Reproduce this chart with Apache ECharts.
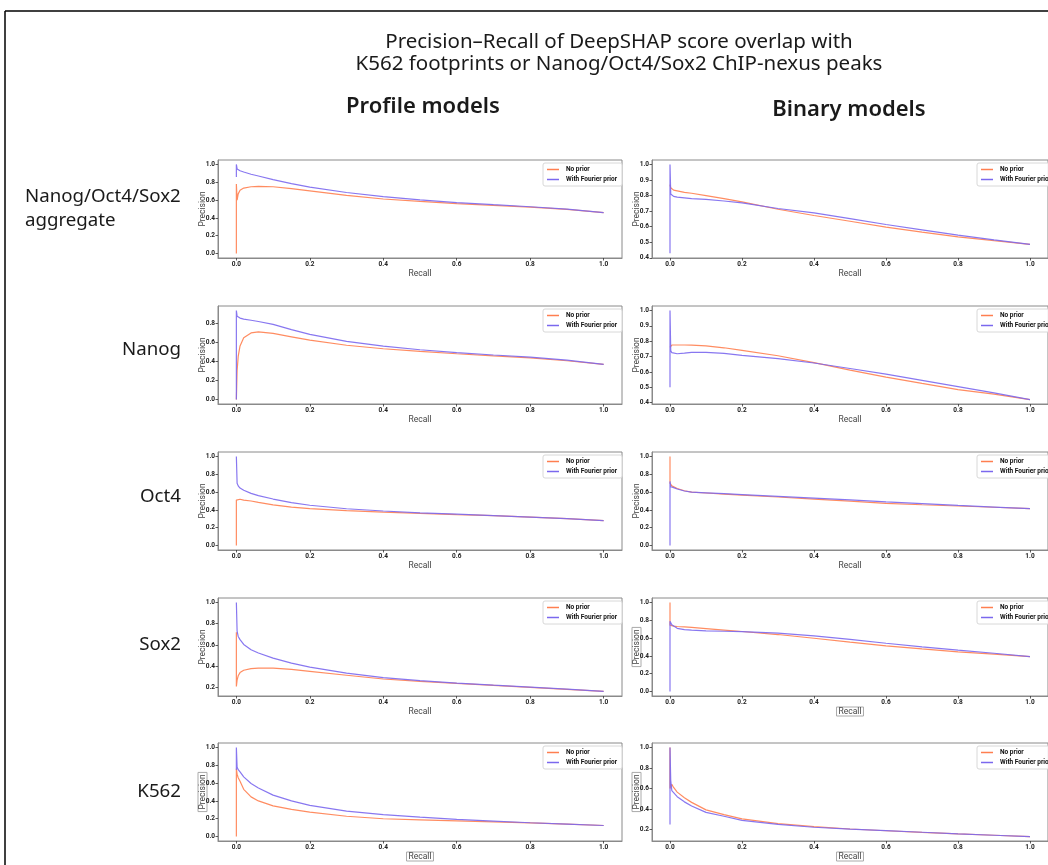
<!DOCTYPE html>
<html><head><meta charset="utf-8">
<script src="https://cdn.jsdelivr.net/npm/echarts@6/dist/echarts.min.js"></script>
<style>html,body{margin:0;padding:0;background:#fff}#c{width:1048px;height:865px}</style>
</head><body><div id="c"></div>
<script>
// ---- data ----
const recall = [0, 0, 0.002, 0.005, 0.01, 0.02, 0.04, 0.06, 0.1, 0.15, 0.2, 0.3, 0.4, 0.5, 0.6, 0.7, 0.8, 0.9, 1.0];

const profileAggNoPrior   = [0, 0.78, 0.60, 0.67, 0.71, 0.735, 0.75, 0.755, 0.75, 0.728, 0.703, 0.652, 0.612, 0.585, 0.56, 0.54, 0.52, 0.495, 0.46];
const profileAggFourier   = [0.86, 1.0, 0.95, 0.94, 0.93, 0.915, 0.89, 0.87, 0.83, 0.785, 0.745, 0.685, 0.638, 0.602, 0.572, 0.548, 0.525, 0.498, 0.46];
const binaryAggNoPrior    = [0.87, 0.87, 0.85, 0.84, 0.835, 0.83, 0.82, 0.815, 0.80, 0.78, 0.76, 0.712, 0.672, 0.635, 0.597, 0.565, 0.535, 0.51, 0.486];
const binaryAggFourier    = [0.43, 1.0, 0.81, 0.805, 0.795, 0.79, 0.785, 0.78, 0.775, 0.765, 0.753, 0.717, 0.689, 0.652, 0.614, 0.58, 0.546, 0.515, 0.486];

const profileNanogNoPrior = [0, 0, 0.30, 0.45, 0.56, 0.645, 0.695, 0.706, 0.69, 0.655, 0.62, 0.567, 0.53, 0.503, 0.478, 0.456, 0.436, 0.405, 0.367];
const profileNanogFourier = [0, 0.93, 0.87, 0.86, 0.85, 0.84, 0.828, 0.815, 0.785, 0.73, 0.68, 0.607, 0.557, 0.52, 0.49, 0.465, 0.443, 0.412, 0.367];
const binaryNanogNoPrior  = [0.76, 0.76, 0.77, 0.775, 0.775, 0.775, 0.775, 0.774, 0.77, 0.757, 0.74, 0.705, 0.66, 0.612, 0.566, 0.525, 0.485, 0.455, 0.42];
const binaryNanogFourier  = [0.5, 1.0, 0.74, 0.725, 0.715, 0.718, 0.722, 0.727, 0.727, 0.72, 0.708, 0.686, 0.658, 0.622, 0.586, 0.545, 0.504, 0.463, 0.42];

const profileOct4NoPrior  = [0, 0.51, 0.53, 0.525, 0.52, 0.51, 0.50, 0.485, 0.457, 0.432, 0.415, 0.392, 0.375, 0.36, 0.347, 0.335, 0.32, 0.303, 0.28];
const profileOct4Fourier  = [1.0, 1.0, 0.70, 0.67, 0.645, 0.62, 0.585, 0.56, 0.522, 0.482, 0.452, 0.413, 0.388, 0.367, 0.352, 0.336, 0.32, 0.302, 0.28];
const binaryOct4NoPrior   = [1.0, 0.70, 0.68, 0.67, 0.66, 0.64, 0.615, 0.60, 0.59, 0.578, 0.567, 0.545, 0.522, 0.498, 0.474, 0.458, 0.444, 0.43, 0.415];
const binaryOct4Fourier   = [0, 0.72, 0.66, 0.655, 0.65, 0.635, 0.612, 0.60, 0.592, 0.582, 0.572, 0.552, 0.532, 0.512, 0.49, 0.47, 0.45, 0.432, 0.415];

const profileSox2NoPrior  = [0.72, 0.21, 0.27, 0.31, 0.34, 0.362, 0.377, 0.383, 0.382, 0.37, 0.352, 0.315, 0.28, 0.258, 0.238, 0.22, 0.202, 0.183, 0.163];
const profileSox2Fourier  = [1.0, 1.0, 0.73, 0.68, 0.65, 0.605, 0.555, 0.525, 0.476, 0.43, 0.392, 0.335, 0.292, 0.265, 0.242, 0.222, 0.203, 0.184, 0.163];
const binarySox2NoPrior   = [1.0, 0.745, 0.74, 0.738, 0.735, 0.73, 0.725, 0.72, 0.707, 0.69, 0.674, 0.64, 0.598, 0.555, 0.513, 0.478, 0.446, 0.42, 0.393];
const binarySox2Fourier   = [0, 0.79, 0.77, 0.75, 0.73, 0.71, 0.695, 0.69, 0.682, 0.677, 0.672, 0.655, 0.625, 0.585, 0.542, 0.502, 0.464, 0.43, 0.393];

const profileK562NoPrior  = [0, 0.76, 0.70, 0.66, 0.62, 0.53, 0.445, 0.40, 0.345, 0.305, 0.275, 0.228, 0.2, 0.188, 0.177, 0.165, 0.154, 0.14, 0.124];
const profileK562Fourier  = [0.75, 1.0, 0.78, 0.75, 0.725, 0.67, 0.595, 0.545, 0.465, 0.40, 0.35, 0.285, 0.245, 0.217, 0.193, 0.173, 0.155, 0.14, 0.124];
const binaryK562NoPrior   = [1.0, 0.60, 0.62, 0.64, 0.61, 0.565, 0.51, 0.465, 0.392, 0.345, 0.305, 0.258, 0.228, 0.206, 0.189, 0.173, 0.158, 0.145, 0.132];
const binaryK562Fourier   = [0.25, 1.0, 0.68, 0.58, 0.56, 0.52, 0.47, 0.43, 0.368, 0.33, 0.29, 0.25, 0.223, 0.205, 0.19, 0.174, 0.158, 0.145, 0.132];

const xTicks       = [0, 0.2, 0.4, 0.6, 0.8, 1.0];
const yTicksFull   = [0, 0.2, 0.4, 0.6, 0.8, 1.0];
const yTicksTo08   = [0, 0.2, 0.4, 0.6, 0.8];
const yTicksFrom02 = [0.2, 0.4, 0.6, 0.8, 1.0];
const yTicksTenths = [0.4, 0.5, 0.6, 0.7, 0.8, 0.9, 1.0];

const rowLabels = ['Nanog/Oct4/Sox2\naggregate', 'Nanog', 'Oct4', 'Sox2', 'K562'];
const seriesNames = ['No prior', 'With Fourier prior'];

// ---- panel definitions ----
const panels = [
  {row:0, col:0, yMin:-0.05,  yMax:1.05,  yTicks:yTicksFull,   a:profileAggNoPrior,   b:profileAggFourier,   boxed:false},
  {row:0, col:1, yMin:0.399,  yMax:1.0285,yTicks:yTicksTenths, a:binaryAggNoPrior,    b:binaryAggFourier,    boxed:false},
  {row:1, col:0, yMin:-0.0465,yMax:0.9765,yTicks:yTicksTo08,   a:profileNanogNoPrior, b:profileNanogFourier, boxed:false},
  {row:1, col:1, yMin:0.391,  yMax:1.029, yTicks:yTicksTenths, a:binaryNanogNoPrior,  b:binaryNanogFourier,  boxed:false},
  {row:2, col:0, yMin:-0.05,  yMax:1.05,  yTicks:yTicksFull,   a:profileOct4NoPrior,  b:profileOct4Fourier,  boxed:false},
  {row:2, col:1, yMin:-0.05,  yMax:1.05,  yTicks:yTicksFull,   a:binaryOct4NoPrior,   b:binaryOct4Fourier,   boxed:false},
  {row:3, col:0, yMin:0.12,   yMax:1.042, yTicks:yTicksFrom02, a:profileSox2NoPrior,  b:profileSox2Fourier,  boxed:false},
  {row:3, col:1, yMin:-0.05,  yMax:1.05,  yTicks:yTicksFull,   a:binarySox2NoPrior,   b:binarySox2Fourier,   boxed:true},
  {row:4, col:0, yMin:-0.05,  yMax:1.05,  yTicks:yTicksFull,   a:profileK562NoPrior,  b:profileK562Fourier,  boxed:true},
  {row:4, col:1, yMin:0.089,  yMax:1.043, yTicks:yTicksFrom02, a:binaryK562NoPrior,   b:binaryK562Fourier,   boxed:true}
];

const ROW_TOPS = [160, 306, 452, 598, 743];
const GRID_H = 98;
const COLS = [{left:218, width:404, legendLeft:543}, {left:652, width:403, legendLeft:977}];
const COLORS = ['#FF7F50', '#7B68EE'];
const TICK_FONT = {fontFamily:'Roboto', fontSize:6.5, fontWeight:'bold', color:'#222'};

function nameStyle(boxed){
  const s = {fontFamily:'Roboto', fontSize:8.5, color:'#444'};
  if (boxed) { s.borderColor = '#aaa'; s.borderWidth = 1; s.padding = [0, 2, 0, 2]; }
  return s;
}

const grids = [], xAxes = [], yAxes = [], series = [], legends = [];
panels.forEach((p, i) => {
  const c = COLS[p.col], top = ROW_TOPS[p.row];
  grids.push({left:c.left, top:top, width:c.width, height:GRID_H, show:true, borderColor:'#8a8a8a', borderWidth:1, backgroundColor:'#fff'});
  xAxes.push({
    type:'value', gridIndex:i, min:-0.05, max:1.05,
    name:'Recall', nameLocation:'middle', nameGap:11, nameMoveOverlap:false, nameTextStyle:nameStyle(p.boxed),
    axisLine:{show:true, onZero:false, lineStyle:{color:'#8a8a8a', width:1}},
    axisTick:{show:true, length:2.5, customValues:xTicks, lineStyle:{color:'#333', width:0.8}},
    axisLabel:{customValues:xTicks, formatter:v => v.toFixed(1), margin:3, ...TICK_FONT},
    splitLine:{show:false}
  });
  yAxes.push({
    type:'value', gridIndex:i, min:p.yMin, max:p.yMax,
    name:'Precision', nameLocation:'middle', nameGap:11, nameMoveOverlap:false, nameTextStyle:nameStyle(p.boxed),
    axisLine:{show:true, onZero:false, lineStyle:{color:'#8a8a8a', width:1}},
    axisTick:{show:true, length:2.5, customValues:p.yTicks, lineStyle:{color:'#333', width:0.8}},
    axisLabel:{customValues:p.yTicks, formatter:v => v.toFixed(1), margin:3, ...TICK_FONT},
    splitLine:{show:false}
  });
  [p.a, p.b].forEach((arr, k) => {
    series.push({
      name:seriesNames[k], type:'line', xAxisIndex:i, yAxisIndex:i,
      data: recall.map((r, j) => [r, arr[j]]),
      showSymbol:false, symbol:'none', smooth:false, silent:true, animation:false,
      lineStyle:{color:COLORS[k], width:1.2, opacity:0.9}, itemStyle:{color:COLORS[k]}
    });
  });
  legends.push({
    orient:'vertical', left:c.legendLeft, top:top + 3,
    data:seriesNames, icon:'rect', itemWidth:12, itemHeight:1.5, itemGap:3,
    padding:[3, 5, 3, 4], borderColor:'#d8d8d8', borderWidth:1, borderRadius:2,
    backgroundColor:'rgba(255,255,255,0.85)', selectedMode:false,
    textStyle:{fontFamily:'Roboto', fontSize:6.5, fontWeight:'bold', color:'#111', padding:[0,0,0,2]}
  });
});

// ---- texts ----
const FONT_T = '"Noto Sans", "Open Sans", sans-serif';
function txt(x, y, text, size, weight, align){
  return {type:'text', x:x, y:y, silent:true, z:10,
    style:{text:text, font:(weight||'normal') + ' ' + size + 'px ' + FONT_T, fill:'#1a1a1a',
      align:align||'center', verticalAlign:'middle', textAlign:align||'center', textVerticalAlign:'middle', lineHeight:size*1.3}};
}
const graphic = [
  {type:'line', shape:{x1:5, y1:11, x2:1048, y2:11}, style:{stroke:'#000', lineWidth:1.5}, silent:true},
  {type:'line', shape:{x1:5, y1:11, x2:5, y2:865}, style:{stroke:'#000', lineWidth:1.5}, silent:true},
  txt(619, 42, 'Precision\u2013Recall of DeepSHAP score overlap with', 20.5),
  txt(619, 64, 'K562 footprints or Nanog/Oct4/Sox2 ChIP-nexus peaks', 20.5),
  txt(423, 107, 'Profile models', 22, '600'),
  txt(849, 110, 'Binary models', 22, '600'),
  txt(25, 209, rowLabels[0], 18.7, 'normal', 'left'),
  txt(181, 350, rowLabels[1], 18.7, 'normal', 'right'),
  txt(181, 497, rowLabels[2], 18.7, 'normal', 'right'),
  txt(181, 645, rowLabels[3], 18.7, 'normal', 'right'),
  txt(181, 792, rowLabels[4], 18.7, 'normal', 'right')
];

const chart = echarts.init(document.getElementById('c'), null, {renderer:'canvas'});
chart.setOption({
  animation:false, backgroundColor:'#fff',
  grid:grids, xAxis:xAxes, yAxis:yAxes, series:series, legend:legends, graphic:graphic
});
</script></body></html>
